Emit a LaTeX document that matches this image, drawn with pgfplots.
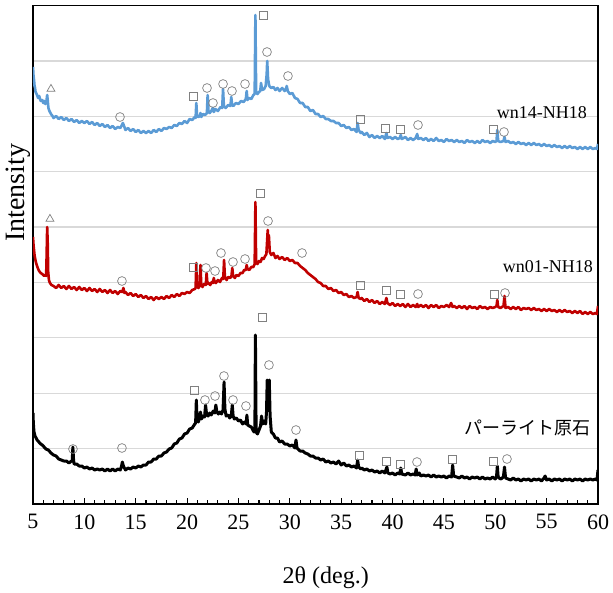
\documentclass[border=0pt]{standalone}
\usepackage{pgfplots}
\pgfplotsset{compat=1.18}
\usepackage{fontspec}
\setmainfont{Liberation Serif}
\newfontfamily\jp{Noto Sans CJK JP}
\definecolor{cblue}{RGB}{91,155,213}
\definecolor{cred}{RGB}{192,0,0}
\definecolor{gridc}{RGB}{217,217,217}
\definecolor{markc}{RGB}{128,128,128}
\begin{document}
\begin{tikzpicture}
\begin{axis}[name=ax,
 width=565pt, height=498.5pt, scale only axis,
 xmin=5, xmax=60, ymin=0, ymax=498.5,
 xtick={5,10,...,60}, minor x tick num=4,
 ytick={55.39,110.78,166.17,221.56,276.94,332.33,387.72,443.11},
 yticklabels={},
 ymajorgrids, major grid style={gridc, line width=1.3pt},
 tick align=inside, xtick pos=bottom, ytick pos=left,
 major tick length=6pt, minor tick length=4pt,
 tick style={black, line width=1.1pt},
 ytick style={draw=none},
 axis line style={line width=1.5pt},
 tick label style={font=\fontsize{22}{26}\selectfont},
 /pgf/number format/assume math mode=true,
 xticklabel style={yshift=-7pt},
 xlabel={2θ (deg.)},
 xlabel style={font=\fontsize{24}{28}\selectfont, at={(rel axis cs:0.518,0)}, anchor=center, yshift=-74pt},
 ylabel={Intensity},
 ylabel style={font=\fontsize{28}{32}\selectfont, at={(rel axis cs:-0.004,0.624)}, anchor=south, inner sep=0pt},
]
% black: パーライト原石
\addplot[black, line width=3pt, line join=round, no marks] coordinates {
(5.00,91)(5.03,82)(5.06,77)(5.10,72)(5.20,68)(5.30,66)(5.40,64)(5.50,63)(5.65,61)(5.75,60)(5.90,59)(6.00,58)(6.25,55)(6.50,54)(6.75,51)(7.00,49)(7.25,48)(7.50,45)(7.75,44)(8.00,43)(8.25,43)(8.50,41)(8.75,43)(8.82,43)(8.88,57)(8.95,44)(9.00,40)(9.25,40)(9.50,38)(9.75,38)(10.00,36)(10.25,37)(10.50,35)(10.75,36)(11.00,34)(11.25,35)(11.50,34)(11.75,35)(12.00,33)(12.25,35)(12.50,33)(12.75,35)(13.00,33)(13.25,35)(13.50,34)(13.62,38)(13.70,42)(13.80,38)(14.00,34)(14.25,36)(14.50,35)(14.75,37)(15.00,36)(15.25,38)(15.50,37)(15.75,39)(16.00,39)(16.25,42)(16.50,42)(16.75,45)(17.00,45)(17.25,48)(17.50,48)(17.75,51)(18.00,52)(18.25,55)(18.50,56)(18.75,60)(19.00,61)(19.25,65)(19.50,66)(19.75,70)(20.00,71)(20.25,75)(20.50,76)(20.75,80)(20.83,81)(20.90,104)(20.97,84)(21.10,82)(21.20,86)(21.30,92)(21.40,85)(21.55,88)(21.70,87)(21.80,99)(21.90,89)(22.05,88)(22.20,91)(22.35,89)(22.55,93)(22.70,91)(22.80,99)(22.90,92)(23.05,90)(23.20,92)(23.35,90)(23.50,94)(23.60,122)(23.68,95)(23.80,88)(24.00,89)(24.15,86)(24.30,88)(24.40,99)(24.48,88)(24.60,85)(24.80,86)(25.00,83)(25.20,84)(25.40,80)(25.60,82)(25.75,80)(25.82,89)(25.90,79)(26.05,78)(26.25,77)(26.40,74)(26.52,72)(26.60,74)(26.65,169)(26.72,72)(26.85,70)(27.00,74)(27.15,78)(27.25,88)(27.35,80)(27.50,83)(27.65,80)(27.73,92)(27.80,124)(27.87,100)(27.94,110)(28.00,124)(28.08,88)(28.20,72)(28.40,70)(28.60,66)(28.80,66)(29.00,62)(29.25,63)(29.50,60)(29.75,60)(30.00,58)(30.25,59)(30.50,56)(30.60,64)(30.70,56)(30.90,54)(31.00,53)(31.25,53)(31.50,51)(31.75,50)(32.00,48)(32.25,48)(32.50,46)(32.75,46)(33.00,44)(33.25,45)(33.50,42)(33.75,43)(34.00,41)(34.25,42)(34.50,40)(34.75,43)(35.00,39)(35.25,41)(35.50,38)(35.75,39)(36.00,37)(36.25,38)(36.50,36)(36.60,44)(36.70,37)(36.90,35)(37.00,36)(37.25,34)(37.50,35)(37.75,33)(38.00,34)(38.25,32)(38.50,33)(38.75,31)(39.00,33)(39.25,31)(39.45,37)(39.55,31)(39.75,30)(40.00,31)(40.25,29)(40.50,31)(40.70,30)(40.80,36)(40.90,30)(41.25,29)(41.50,31)(41.75,29)(42.00,30)(42.20,29)(42.30,35)(42.40,29)(42.60,31)(42.75,28)(43.00,29)(43.25,28)(43.50,29)(43.75,27)(44.00,29)(44.25,27)(44.50,28)(44.75,27)(45.00,28)(45.25,26)(45.50,28)(45.75,27)(45.85,39)(45.95,28)(46.25,27)(46.50,26)(46.75,28)(47.00,26)(47.25,27)(47.50,25)(47.75,27)(48.00,26)(48.25,27)(48.50,25)(48.75,27)(49.00,25)(49.25,26)(49.50,25)(49.75,27)(50.00,25)(50.12,27)(50.20,38)(50.28,27)(50.50,25)(50.70,26)(50.80,28)(50.90,37)(51.00,26)(51.25,25)(51.50,24)(51.75,26)(52.00,24)(52.25,25)(52.50,23)(52.75,25)(53.00,24)(53.25,25)(53.50,23)(53.75,25)(54.00,24)(54.25,25)(54.50,23)(54.75,26)(54.85,28)(55.00,24)(55.25,25)(55.50,23)(55.75,25)(56.00,24)(56.25,25)(56.50,23)(56.75,25)(57.00,24)(57.25,25)(57.50,23)(57.75,25)(58.00,24)(58.25,25)(58.50,23)(58.75,25)(59.00,24)(59.25,25)(59.50,24)(59.75,25)(59.90,24)(60.00,34)
};
% red: wn01-NH18
\addplot[cred, line width=2.6pt, line join=round, no marks] coordinates {
(5.00,267)(5.05,259)(5.10,254)(5.15,249)(5.20,246)(5.30,241)(5.40,238)(5.50,235)(5.60,233)(5.75,231)(5.90,230)(6.00,229)(6.10,228)(6.20,229)(6.28,228)(6.33,250)(6.38,277)(6.43,262)(6.48,232)(6.55,224)(6.65,221)(6.80,219)(7.00,218)(7.25,216)(7.50,219)(7.75,216)(8.00,218)(8.25,215)(8.50,218)(8.75,215)(9.00,217)(9.25,214)(9.50,217)(9.75,214)(10.00,216)(10.25,213)(10.50,216)(10.75,213)(11.00,215)(11.25,212)(11.50,215)(11.75,212)(12.00,214)(12.25,211)(12.50,214)(12.75,211)(13.00,213)(13.25,210)(13.50,213)(13.70,212)(13.80,216)(13.90,211)(14.00,212)(14.25,209)(14.50,211)(14.75,208)(15.00,210)(15.25,207)(15.50,209)(15.75,206)(16.00,208)(16.25,205)(16.50,207)(16.75,204)(17.00,207)(17.25,205)(17.50,207)(17.75,205)(18.00,208)(18.25,206)(18.50,209)(18.75,207)(19.00,210)(19.25,208)(19.50,211)(19.75,210)(20.00,212)(20.25,211)(20.50,214)(20.75,215)(20.83,216)(20.90,241)(20.97,218)(21.10,216)(21.22,218)(21.30,239)(21.38,219)(21.50,217)(21.65,220)(21.82,219)(21.90,231)(21.98,220)(22.10,221)(22.25,219)(22.40,222)(22.52,221)(22.60,226)(22.68,222)(22.80,221)(23.00,224)(23.20,222)(23.40,226)(23.52,225)(23.60,244)(23.68,227)(23.85,224)(24.00,227)(24.20,226)(24.32,228)(24.40,236)(24.48,228)(24.65,226)(24.80,229)(25.00,228)(25.20,231)(25.40,231)(25.55,234)(25.72,234)(25.80,239)(25.88,235)(26.05,234)(26.25,237)(26.45,237)(26.58,240)(26.65,302)(26.72,241)(26.85,240)(27.00,243)(27.15,242)(27.30,246)(27.45,245)(27.60,248)(27.72,250)(27.85,274)(27.90,262)(27.96,269)(28.05,252)(28.20,249)(28.40,251)(28.60,246)(28.80,248)(29.00,245)(29.25,247)(29.50,244)(29.75,246)(30.00,243)(30.25,244)(30.50,241)(30.75,241)(31.00,238)(31.25,236)(31.50,234)(31.75,231)(32.00,229)(32.25,227)(32.50,225)(32.75,222)(33.00,221)(33.25,218)(33.50,218)(33.75,215)(34.00,216)(34.25,213)(34.50,214)(34.75,211)(35.00,212)(35.25,209)(35.50,210)(35.75,207)(36.00,208)(36.25,206)(36.50,207)(36.60,212)(36.70,206)(36.90,205)(37.00,206)(37.25,203)(37.50,205)(37.75,202)(38.00,204)(38.25,201)(38.50,203)(38.75,200)(39.00,202)(39.25,200)(39.40,206)(39.50,201)(39.75,199)(40.00,201)(40.25,198)(40.50,200)(40.75,198)(41.00,200)(41.25,197)(41.50,200)(41.75,197)(42.00,199)(42.25,197)(42.40,200)(42.50,197)(42.75,199)(43.00,197)(43.25,199)(43.50,196)(43.75,199)(44.00,197)(44.25,199)(44.50,196)(44.75,198)(45.00,197)(45.25,199)(45.50,197)(45.70,201)(45.85,197)(46.00,198)(46.25,196)(46.50,198)(46.75,196)(47.00,198)(47.25,195)(47.50,198)(47.75,196)(48.00,197)(48.25,195)(48.50,198)(48.75,196)(49.00,197)(49.25,195)(49.50,197)(49.75,196)(50.00,197)(50.12,198)(50.20,204)(50.28,197)(50.50,196)(50.80,198)(50.90,208)(51.00,196)(51.25,197)(51.50,195)(51.75,197)(52.00,195)(52.25,197)(52.50,194)(52.75,196)(53.00,195)(53.25,196)(53.50,194)(53.75,196)(54.00,194)(54.25,195)(54.50,193)(54.75,195)(55.00,193)(55.25,195)(55.50,193)(55.75,194)(56.00,192)(56.25,194)(56.50,192)(56.75,194)(57.00,192)(57.25,193)(57.50,191)(57.75,193)(58.00,191)(58.25,193)(58.50,190)(58.75,192)(59.00,190)(59.25,192)(59.50,190)(59.75,191)(59.90,190)(60.00,198)
};
% blue: wn14-NH18
\addplot[cblue, line width=2.6pt, line join=round, no marks] coordinates {
(5.00,437)(5.05,428)(5.10,424)(5.15,418)(5.20,416)(5.25,412)(5.35,410)(5.50,406)(5.60,408)(5.75,403)(5.90,404)(6.00,401)(6.10,403)(6.20,400)(6.30,402)(6.38,409)(6.43,404)(6.50,396)(6.60,393)(6.75,390)(6.90,388)(7.00,386)(7.25,388)(7.50,385)(7.75,387)(8.00,384)(8.25,386)(8.50,383)(8.75,385)(9.00,382)(9.25,384)(9.50,381)(9.75,383)(10.00,381)(10.25,383)(10.50,380)(10.75,382)(11.00,379)(11.25,381)(11.50,378)(11.75,380)(12.00,377)(12.25,379)(12.50,376)(12.75,378)(13.00,375)(13.25,377)(13.50,376)(13.65,379)(13.75,381)(13.90,377)(14.00,374)(14.25,376)(14.50,373)(14.75,375)(15.00,372)(15.25,374)(15.50,371)(15.75,373)(16.00,371)(16.25,373)(16.50,371)(16.75,374)(17.00,372)(17.25,375)(17.50,373)(17.75,376)(18.00,375)(18.25,377)(18.50,376)(18.75,379)(19.00,378)(19.25,381)(19.50,380)(19.75,383)(20.00,381)(20.25,385)(20.50,384)(20.75,387)(20.83,386)(20.90,401)(20.97,388)(21.10,387)(21.25,388)(21.30,391)(21.38,387)(21.55,390)(21.75,389)(21.93,391)(22.00,409)(22.08,393)(22.20,391)(22.35,393)(22.50,396)(22.60,392)(22.75,395)(23.00,393)(23.25,397)(23.42,396)(23.50,415)(23.58,398)(23.75,396)(24.00,399)(24.22,398)(24.30,407)(24.38,399)(24.50,398)(24.75,401)(25.00,400)(25.25,403)(25.50,402)(25.72,405)(25.80,413)(25.88,404)(26.00,406)(26.25,405)(26.45,409)(26.58,410)(26.65,489)(26.72,412)(26.85,410)(27.00,412)(27.12,413)(27.20,421)(27.30,414)(27.50,415)(27.65,418)(27.75,430)(27.80,443)(27.88,425)(28.00,418)(28.20,416)(28.40,417)(28.60,414)(28.80,416)(29.00,413)(29.25,416)(29.50,413)(29.62,415)(29.70,418)(29.80,413)(30.00,410)(30.25,411)(30.50,406)(30.75,405)(31.00,401)(31.25,401)(31.50,397)(31.75,397)(32.00,393)(32.25,394)(32.50,390)(32.75,390)(33.00,387)(33.25,388)(33.50,385)(33.75,385)(34.00,383)(34.25,383)(34.50,381)(34.75,381)(35.00,378)(35.25,379)(35.50,376)(35.75,377)(36.00,374)(36.25,375)(36.50,372)(36.60,381)(36.70,374)(36.90,371)(37.00,372)(37.25,369)(37.50,371)(37.75,367)(38.00,369)(38.25,366)(38.50,368)(38.75,366)(39.00,368)(39.25,365)(39.40,371)(39.50,366)(39.75,367)(40.00,365)(40.25,367)(40.50,365)(40.70,366)(40.80,369)(40.90,365)(41.25,367)(41.50,364)(41.75,366)(42.00,364)(42.25,366)(42.40,370)(42.50,365)(42.75,366)(43.00,364)(43.25,366)(43.50,363)(43.75,365)(44.00,363)(44.25,366)(44.50,363)(44.75,364)(45.00,362)(45.25,365)(45.50,363)(45.75,364)(46.00,362)(46.25,364)(46.50,362)(46.75,363)(47.00,361)(47.25,364)(47.50,362)(47.75,363)(48.00,361)(48.25,363)(48.50,361)(48.75,364)(49.00,362)(49.25,363)(49.50,361)(49.75,363)(50.00,362)(50.12,363)(50.20,374)(50.28,363)(50.50,362)(50.80,363)(50.90,367)(51.00,362)(51.25,363)(51.50,361)(51.75,362)(52.00,360)(52.25,362)(52.50,360)(52.75,361)(53.00,359)(53.25,361)(53.50,359)(53.75,361)(54.00,359)(54.25,360)(54.50,358)(54.75,360)(55.00,358)(55.25,359)(55.50,357)(55.75,359)(56.00,357)(56.25,358)(56.50,356)(56.75,358)(57.00,356)(57.25,358)(57.50,356)(57.75,357)(58.00,355)(58.25,357)(58.50,355)(58.75,357)(59.00,355)(59.25,357)(59.50,355)(59.75,356)(59.90,355)(60.00,360)
};
% phase markers: circles
\addplot[only marks, mark=o, mark size=4.4pt, mark options={draw=markc, line width=0.7pt}] coordinates {
(13.47,387)(21.94,416)(22.52,401)(23.50,420)(24.37,413)(25.64,420)(27.78,452)(29.82,428)(42.48,379)(50.85,372)
(13.66,223)(21.84,236)(22.72,233)(23.30,251)(24.47,242)(25.64,245)(27.88,283)(31.19,251)(42.48,210)(50.95,211)
(8.89,55)(13.66,56)(21.74,104)(22.72,108)(23.59,128)(24.47,104)(25.73,98)(27.97,139)(30.60,74)(42.38,42)(51.14,45)
};
% squares
\addplot[only marks, mark=square, mark size=3.9pt, mark options={draw=markc, line width=0.7pt}] coordinates {
(20.58,408)(27.39,489)(36.83,385)(39.27,376)(40.73,375)(49.78,375)
(20.58,237)(27.10,311)(36.83,219)(39.36,214)(40.73,210)(49.88,210)
(20.67,114)(27.29,187)(36.73,49)(39.36,43)(40.73,40)(45.79,45)(49.78,43)
};
% triangles
\addplot[only marks, mark=triangle, mark size=4.6pt, mark options={draw=markc, line width=0.7pt}] coordinates {
(6.75,415)(6.65,285)
};
\node[anchor=east, inner sep=0pt, font=\fontsize{18}{20}\selectfont] at (axis cs:58.93,391) {wn14-NH18};
\node[anchor=east, inner sep=0pt, font=\fontsize{18}{20}\selectfont] at (axis cs:59.51,237) {wn01-NH18};
\node[anchor=east, inner sep=0pt, font=\jp\fontsize{18}{20}\selectfont] at (axis cs:59.32,76) {パーライト原石};
\end{axis}
\pgfresetboundingbox
\path ([shift={(-33pt,-88pt)}]ax.south west) rectangle ([shift={(580pt,504pt)}]ax.south west);
\end{tikzpicture}
\end{document}
